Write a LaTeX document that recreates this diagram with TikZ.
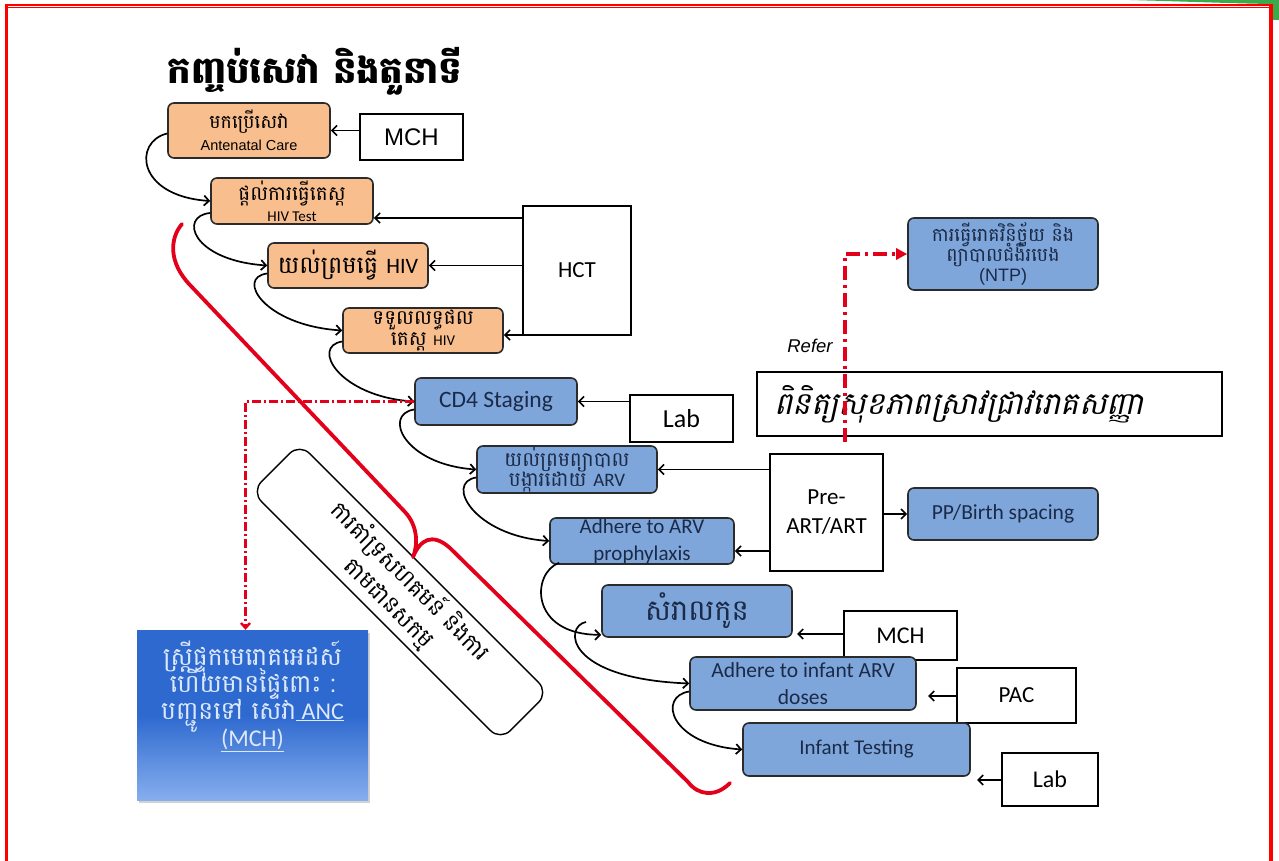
\documentclass[tikz,border=0pt]{standalone}
\usepackage{fontspec}
\setmainfont{Carlito}
\newfontfamily\kh[Script=Khmer]{Battambang}
\newfontfamily\khi[Script=Khmer,FakeSlant=0.22]{Battambang}
\newfontfamily\arial{Liberation Sans}
\newfontfamily\calfont{Carlito}
\newcommand\tightlines{\lineskiplimit=-100pt\lineskip=0pt}
\usetikzlibrary{arrows.meta,calc,shadows}
\definecolor{org}{HTML}{F9BE8E}
\definecolor{blu}{HTML}{7EA6DA}
\definecolor{bord}{HTML}{2B2B2B}
\definecolor{txtb}{HTML}{1B2A48}
\definecolor{redl}{HTML}{E3001B}
\definecolor{ancA}{HTML}{2E69CF}
\definecolor{ancB}{HTML}{86AEEE}
\definecolor{anctxt}{HTML}{DCE8FB}
\definecolor{grn}{HTML}{3AAA4A}
\tikzset{
  obox/.style={draw=bord, line width=1.6, fill=org, rounded corners=6, align=center, inner sep=0, text=black},
  bbox/.style={draw=bord, line width=1.6, fill=blu, rounded corners=6, align=center, inner sep=0, text=txtb},
  wbox/.style={draw=black, line width=1.4, fill=white, align=center, inner sep=0},
  flow/.style={line width=1.7, -{Straight Barb[length=5pt,width=10pt]}},
  reddash/.style={draw=redl, line width=3.5, dash pattern=on 14pt off 5pt on 3pt off 5pt, -{Triangle[length=11pt,width=11pt]}},
  reddot/.style={draw=redl, line width=2.4, dash pattern=on 9pt off 3pt on 2pt off 3pt, -{Straight Barb[length=5pt,width=9pt]}},
  brace/.style={draw=redl, line width=3.8, line cap=round, line join=round}
}
\begin{document}
\begin{tikzpicture}[x=1pt,y=-1pt]
\useasboundingbox (0,0) rectangle (1279,861);
\fill[white] (0,0) rectangle (1279,861);
% frame
\fill[grn] (1130,0) .. controls (1200,2) and (1250,4) .. (1279,4) -- (1279,0) -- cycle;
\fill[grn] (1273,0) rectangle (1279,20);
\fill[red] (5,4) rectangle (1273,6.3);
\fill[red] (7,7.3) rectangle (1270,8.3);
\fill[red] (5,4) rectangle (8.3,861);
\fill[red] (1269,6) rectangle (1273,861);

% title
\node (title) at (315,71) {\kh\bfseries\fontsize{37}{42}\selectfont កញ្ចប់សេវា និងតួនាទី};

% orange boxes
\node[obox, minimum width=162, minimum height=55, font=\kh\fontsize{19}{22}\selectfont\tightlines] (o1) at (249,130.5)
  {មកប្រើសេវា\\{\arial\fontsize{14.5}{16}\selectfont Antenatal Care}};
\node[wbox, minimum width=103, minimum height=46] (mch1) at (411.5,137) {\arial\fontsize{24}{26}\selectfont MCH};
\node[obox, minimum width=162, minimum height=46, font=\kh\fontsize{20}{21}\selectfont\tightlines] (o2) at (292,201)
  {ផ្តល់ការធ្វើតេស្ត\\{\calfont\fontsize{15}{16}\selectfont HIV Test}};
\node[obox, minimum width=160, minimum height=45, font=\kh\fontsize{24}{26}\selectfont] (o3) at (348,265.5)
  {យល់ព្រមធ្វើ {\calfont\fontsize{22}{24}\selectfont HIV}};
\node[obox, minimum width=160, minimum height=45, font=\kh\fontsize{20}{21}\selectfont\tightlines] (o4) at (423,330.5)
  {ទទួលលទ្ធផល\\តេស្ត {\calfont\fontsize{15}{16}\selectfont HIV}};
\node[wbox, minimum width=108, minimum height=129] (hct) at (577,270.5) {\fontsize{23}{26}\selectfont HCT};

% NTP and screening
\node[bbox, minimum width=190, minimum height=72, font=\kh\fontsize{19}{20}\selectfont\tightlines] (ntp) at (1003,254)
  {ការធ្វើរោគវិនិច្ឆ័យ និង\\ព្យាបាលជំងឺរបេង\\{\arial\fontsize{18}{20}\selectfont (NTP)}};
\node[wbox, minimum width=465, minimum height=64] (khbox) at (989.5,404) {};
\node[anchor=west, inner sep=0] (khtxt) at (774,404) {\khi\fontsize{31}{34}\selectfont ពិនិត្យសុខភាពស្រាវជ្រាវរោគសញ្ញា};
\node[inner sep=0] (refer) at (810,346) {\arial\itshape\fontsize{18.5}{20}\selectfont Refer};
\coordinate (refb) at (845,442);

% blue chain
\node[bbox, minimum width=162, minimum height=47] (cd4) at (496,401.5) {\fontsize{23.5}{26}\selectfont CD4 Staging};
\node[wbox, minimum width=103, minimum height=47] (lab1) at (681.5,418.5) {\fontsize{26}{28}\selectfont Lab};
\node[bbox, minimum width=180, minimum height=47, font=\kh\fontsize{20}{20}\selectfont\tightlines] (arv) at (567,469.5)
  {យល់ព្រមព្យាបាល\\បង្ការដោយ {\calfont\fontsize{19}{20}\selectfont ARV}};
\node[wbox, minimum width=113, minimum height=117, font=\fontsize{23}{29}\selectfont] (pre) at (826.5,512.5) {Pre-\\ART/ART};
\node[bbox, minimum width=190, minimum height=52] (pp) at (1003,514) {\fontsize{21.5}{24}\selectfont PP/Birth spacing};
\node[bbox, minimum width=184, minimum height=46, font=\fontsize{21}{27}\selectfont] (adh) at (642,541) {Adhere to ARV\\prophylaxis};
\node[bbox, minimum width=190, minimum height=52] (sk) at (697,611) {\kh\fontsize{29}{32}\selectfont សំរាលកូន};
\node[wbox, minimum width=113, minimum height=49] (mch2) at (900.5,635.5) {\fontsize{24}{26}\selectfont MCH};
\node[bbox, minimum width=226, minimum height=53, font=\fontsize{21.5}{27}\selectfont] (adh2) at (803,683.5) {Adhere to infant ARV\\doses};
\node[wbox, minimum width=119, minimum height=55] (pac) at (1016.5,695.5) {\fontsize{23}{26}\selectfont PAC};
\node[bbox, minimum width=227, minimum height=53] (it) at (856.5,749.5) {\fontsize{21}{24}\selectfont Infant Testing};
\node[wbox, minimum width=96, minimum height=53] (lab2) at (1050,779.5) {\fontsize{24}{26}\selectfont Lab};

% ANC box
\node[minimum width=231, minimum height=170, inner sep=0,
      top color=ancA, bottom color=ancB, middle color=ancA,
      drop shadow={shadow xshift=2pt, shadow yshift=-3pt, opacity=0.35}] (anc) at (252.5,715) {};
\node[align=center, inner sep=0, text=anctxt, font=\kh\fontsize{25}{27}\selectfont\tightlines] (ancT) at (252.5,696)
  {ស្ត្រីផ្ទុកមេរោគអេដស៍\\ហើយមានផ្ទៃពោះ :\\បញ្ជូនទៅ សេវា{\calfont\fontsize{24}{27}\selectfont\underline{ ANC}}\\{\calfont\fontsize{24}{27}\selectfont\underline{(MCH)}}};

% rotated support box
\node[draw=black, line width=1.4, fill=white, rounded corners=14, minimum width=352, minimum height=68,
      rotate=-45, align=center, inner sep=0, font=\kh\fontsize{23}{30}\selectfont\tightlines] (sup) at (400,592)
  {ការគាំទ្រសហគមន៍ និងការ\\តាមដានសកម្ម};

% red brace
\draw[brace] (182,224) .. controls (170,238) and (168,262) .. (190,285) -- (405,512)
  .. controls (418,526) and (418,545) .. (413,557)
  .. controls (420,540) and (432,532) .. (450,548) -- (688,782)
  .. controls (698,795) and (715,798) .. (730,783);

% straight arrows
\draw[flow] (mch1.west |- o1.east) -- (o1.east);
\draw[flow] (hct.west |- 0,218) -- (o2.east |- 0,218);
\draw[flow] (hct.west |- o3.east) -- (o3.east);
\draw[flow] (hct.west |- 0,335) -- (o4.east |- 0,335);
\draw[flow] (lab1.west |- cd4.east) -- (cd4.east);
\draw[flow] (pre.west |- arv.east) -- (arv.east);
\draw[flow] (pre.west |- 0,551) -- (adh.east |- 0,551);
\draw[flow] (pre.east |- 0,514) -- (pp.west);
\coordinate (skt) at (797,634);
\draw[flow] (mch2.west |- skt) -- (skt);
\coordinate (adt) at (928,696);
\draw[flow] (pac.west |- adt) -- (adt);
\coordinate (itt) at (977,780);
\draw[flow] (lab2.west |- itt) -- (itt);

% curved chain arrows
\draw[flow] ($(o1.west)+(0,3)$) .. controls +(-34,8) and +(-74,-5) .. (o2.west);
\draw[flow] ($(o2.west)+(0,12)$) .. controls +(-32,3) and +(-75,-5) .. (o3.west);
\draw[flow] ($(o3.west)+(0,8)$) .. controls +(-32,4) and +(-78,-5) .. (o4.west);
\draw[flow] ($(o4.west)+(0,11)$) .. controls +(-32,5) and +(-75,-5) .. (cd4.west);
\draw[flow] ($(cd4.west)+(0,8)$) .. controls +(-32,5) and +(-72,-5) .. (arv.west);
\draw[flow] ($(arv.west)+(0,8)$) .. controls +(-32,5) and +(-75,-5) .. (adh.west);
\draw[flow] ($(adh.south west)+(10,-2)$) .. controls +(-28,10) and +(-72,0) .. ($(sk.south west)+(0,-3)$);
\coordinate (h8) at (586,622);
\draw[flow] (h8) .. controls +(-22,4) and +(-125,-5) .. (adh2.west);
\draw[flow] ($(adh2.west)+(0,8)$) .. controls +(-32,5) and +(-72,-5) .. (it.west);

% red referral lines
\draw[reddash] (refb) |- (ntp.west);
\draw[reddot] (cd4.west) -| ($(anc.north)+(-7,0)$);
\end{tikzpicture}
\end{document}
